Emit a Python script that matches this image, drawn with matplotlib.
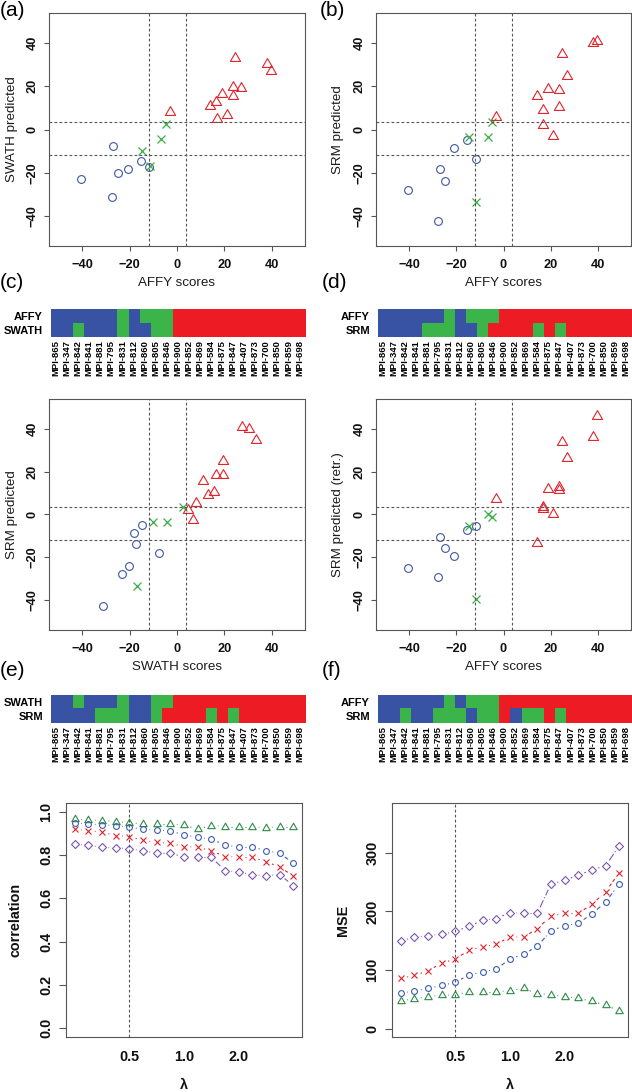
import numpy as np
import matplotlib
matplotlib.use("Agg")
import matplotlib.pyplot as plt
from matplotlib.colors import ListedColormap
from matplotlib.path import Path

plt.rcParams['font.family'] = ['Liberation Sans', 'DejaVu Sans']

W, H = 632, 1092

# ---- data: 23 genes, sorted by AFFY score ----
genes = ['MPI-865', 'MPI-347', 'MPI-842', 'MPI-841', 'MPI-881', 'MPI-795',
         'MPI-831', 'MPI-812', 'MPI-860', 'MPI-805', 'MPI-846', 'MPI-900',
         'MPI-852', 'MPI-869', 'MPI-584', 'MPI-875', 'MPI-847', 'MPI-407',
         'MPI-873', 'MPI-700', 'MPI-850', 'MPI-859', 'MPI-698']
affy = [-40.5, -27.6, -26.8, -24.8, -20.8, -15.3, -14.8, -11.8, -11.5, -6.6, -4.7,
        -3.0, 14.1, 16.6, 16.8, 19.0, 21.0, 23.5, 23.7, 24.6, 26.9, 38.1, 39.5]
swath = [-23.1, -31.2, -7.7, -20.3, -18.3, -14.6, -10.0, -17.3, -16.8, -4.4, 2.7,
         8.0, 10.9, 12.9, 4.7, 16.3, 6.6, 19.6, 15.5, 33.3, 19.4, 30.3, 27.3]
srm = [-27.9, -42.6, -18.2, -24.1, -8.6, -4.8, -3.5, -13.7, -33.4, -3.5, 3.7,
       5.6, 15.6, 9.1, 2.2, 18.7, -2.8, 18.4, 10.4, 34.9, 25.0, 40.0, 40.8]
srm_retr = [-25.2, -29.3, -10.5, -15.6, -19.6, -7.2, -5.3, -5.5, -39.5, 0.1, -1.0,
            7.1, -13.1, 3.5, 2.4, 11.8, 0.1, 13.0, 11.3, 34.0, 26.5, 36.3, 46.0]

# class per gene: 0 = down (blue), 1 = unchanged (green), 2 = up (red)
affy_cls = [0, 0, 0, 0, 0, 0, 1, 0, 1, 1, 1, 2, 2, 2, 2, 2, 2, 2, 2, 2, 2, 2, 2]
swath_cls = [0, 0, 1, 0, 0, 0, 1, 0, 0, 1, 1, 2, 2, 2, 2, 2, 2, 2, 2, 2, 2, 2, 2]
srm_cls = [0, 0, 0, 0, 1, 1, 1, 0, 0, 1, 2, 2, 2, 2, 1, 2, 1, 2, 2, 2, 2, 2, 2]
retr_cls = [0, 0, 1, 0, 0, 1, 1, 1, 0, 1, 1, 2, 0, 1, 1, 2, 1, 2, 2, 2, 2, 2, 2]

cut_x = [-12.0, 3.7]
cut_y = [-12.0, 3.5]

# lambda grid (index positions) and the labelled values
lam_pos = list(range(1, 18))
lam_ticks = [5, 9, 13]
lam_labels = ['0.5', '1.0', '2.0']
lam_sel = 5

cor_circle = [0.947, 0.943, 0.940, 0.936, 0.928, 0.919, 0.916, 0.910, 0.893,
              0.882, 0.873, 0.847, 0.836, 0.836, 0.820, 0.809, 0.762]
cor_cross = [0.919, 0.913, 0.905, 0.890, 0.885, 0.867, 0.859, 0.854, 0.839,
             0.836, 0.820, 0.793, 0.790, 0.790, 0.770, 0.744, 0.704]
cor_tri = [0.965, 0.962, 0.959, 0.954, 0.949, 0.943, 0.943, 0.943, 0.937,
           0.920, 0.936, 0.931, 0.931, 0.931, 0.926, 0.931, 0.931]
cor_diam = [0.851, 0.844, 0.836, 0.834, 0.828, 0.820, 0.809, 0.809, 0.790,
            0.790, 0.790, 0.728, 0.721, 0.710, 0.704, 0.710, 0.659]

mse_circle = [61, 64, 69, 74, 79, 92, 97, 102, 119, 127, 141, 167, 176, 180, 196, 216, 247]
mse_cross = [86, 91, 99, 112, 119, 134, 140, 144, 157, 156, 171, 192, 197, 197, 212, 234, 266]
mse_tri = [48, 51, 55, 57, 58, 63, 63, 63, 65, 69, 60, 58, 55, 52, 47, 40, 31]
mse_diam = [150, 156, 159, 161, 166, 175, 185, 188, 198, 197, 197, 247, 253, 262, 271, 278, 312]

# ---- styling ----
hm_cols = ['#3953a4', '#3bb44a', '#ed1c24']
pt_blue, pt_green, pt_red = '#3d56a6', '#3aae45', '#e2232c'
ln_blue, ln_red, ln_green, ln_purple = '#3d5cb0', '#e0202a', '#2e8a48', '#7c55b0'
frame = '#555555'

tri = Path([(-1, -0.577), (1, -0.577), (0, 1.155), (-1, -0.577)], closed=True)

fig = plt.figure(figsize=(W / 100, H / 100), dpi=100)


def px_box(l, t, r, b):
    return [l / W, 1 - b / H, (r - l) / W, (b - t) / H]


def frame_axes(ax):
    for s in ax.spines.values():
        s.set_color(frame)
        s.set_linewidth(0.8)


def labels(ax, rect, xlab, xlab_y, ylab, ylab_x, **kw):
    l, t, r, b = rect
    ax.set_xlabel(xlab, **kw)
    ax.xaxis.set_label_coords(0.5, (b - xlab_y) / (b - t))
    ax.xaxis.label.set_va('center')
    ax.set_ylabel(ylab, **kw)
    ax.yaxis.set_label_coords((ylab_x - l) / (r - l), 0.5)
    ax.yaxis.label.set_va('center')


def scatter_panel(rect, x, y, xlab, ylab, ylab_x):
    ax = fig.add_axes(px_box(*rect))
    x = np.asarray(x)
    y = np.asarray(y)
    cls = np.asarray(affy_cls)
    ax.plot(x[cls == 0], y[cls == 0], ls='none', marker='o', ms=5.6, mfc='none',
            mec=pt_blue, mew=0.8)
    ax.plot(x[cls == 1], y[cls == 1], ls='none', marker='x', ms=5.4,
            mec=pt_green, mew=0.9)
    ax.plot(x[cls == 2], y[cls == 2], ls='none', marker=tri, ms=8.5, mfc='none',
            mec=pt_red, mew=0.8)
    for v in cut_x:
        ax.axvline(v, color=frame, lw=0.8, ls=(0, (2.5, 2)))
    for v in cut_y:
        ax.axhline(v, color=frame, lw=0.8, ls=(0, (2.5, 2)))
    ax.set_xlim(-54, 54)
    ax.set_ylim(-54, 54)
    ax.set_xticks([-40, -20, 0, 20, 40])
    ax.set_yticks([-40, -20, 0, 20, 40])
    ax.tick_params(axis='both', length=3.4, width=0.8, color=frame,
                   labelsize=9.2, labelcolor='#111111')
    ax.tick_params(axis='x', pad=6.0)
    ax.tick_params(axis='y', pad=4.0, labelrotation=90)
    for t in ax.get_xticklabels() + ax.get_yticklabels():
        t.set_fontweight('bold')
    for t in ax.get_yticklabels():
        t.set_va('center')
    frame_axes(ax)
    labels(ax, rect, xlab, rect[3] + 37, ylab, ylab_x, fontsize=9.6, color='#1a1a1a')
    return ax


def heat_panel(rect, rows, names):
    ax = fig.add_axes(px_box(*rect))
    ax.imshow(np.array(rows), cmap=ListedColormap(hm_cols), vmin=0, vmax=2,
              aspect='auto', interpolation='nearest')
    ax.set_xticks(range(len(genes)))
    ax.set_xticklabels(genes, rotation=90, fontsize=6.8, fontweight='bold')
    ax.set_yticks([0, 1])
    ax.set_yticklabels(names, fontsize=8.0, fontweight='bold')
    ax.tick_params(axis='x', length=0, pad=2.5)
    ax.tick_params(axis='y', length=0, pad=5.5)
    for s in ax.spines.values():
        s.set_visible(False)
    return ax


def b_lines(ax, x, y, color, ls, gap=6.5):
    # R type="b": line pieces between points, leaving a gap around each point
    pts = ax.transData.transform(np.column_stack([x, y]))
    inv = ax.transData.inverted()
    for p, q in zip(pts[:-1], pts[1:]):
        d = q - p
        L = np.hypot(d[0], d[1])
        if L <= 2 * gap + 0.5:
            continue
        u = d / L
        seg = inv.transform(np.array([p + u * gap, q - u * gap]))
        ax.plot(seg[:, 0], seg[:, 1], color=color, ls=ls, lw=0.8)


def lambda_panel(rect, series, ylim, yticks, ylab, ylab_x):
    ax = fig.add_axes(px_box(*rect))
    ax.set_xlim(0.36, 17.64)
    ax.set_ylim(*ylim)
    ax.axvline(lam_sel, color=frame, lw=0.8, ls=(0, (2.5, 2)))
    for vals, col, mk, ms, ls in series:
        ax.plot(lam_pos, vals, ls='none', marker=mk, ms=ms, mfc='none', mec=col, mew=0.8)
        b_lines(ax, lam_pos, vals, col, ls)
    ax.set_xticks(lam_ticks)
    ax.set_xticklabels(lam_labels)
    ax.set_yticks(yticks)
    ax.tick_params(axis='x', length=0, pad=9.5, labelsize=10.4, labelcolor='#111111')
    ax.tick_params(axis='y', length=5.2, width=0.8, color=frame, pad=4.0,
                   labelsize=10.4, labelrotation=90, labelcolor='#111111')
    for t in ax.get_xticklabels() + ax.get_yticklabels():
        t.set_fontweight('bold')
    for t in ax.get_yticklabels():
        t.set_va('center')
    frame_axes(ax)
    labels(ax, rect, 'λ', 1085, ylab, ylab_x, fontsize=10.4, fontweight='bold',
           color='#111111')
    return ax


# ---- scatter panels ----
rect_a = (49, 13, 305, 246)
rect_b = (376, 13, 631, 246)
rect_c = (49, 399, 305, 630)
rect_d = (376, 399, 631, 630)
scatter_panel(rect_a, affy, swath, 'AFFY scores', 'SWATH predicted', 12)
scatter_panel(rect_b, affy, srm, 'AFFY scores', 'SRM predicted', 338)
scatter_panel(rect_c, swath, srm, 'SWATH scores', 'SRM predicted', 12)
scatter_panel(rect_d, affy, srm_retr, 'AFFY scores', 'SRM predicted (retr.)', 338)

# ---- class heat maps ----
heat_panel((50.5, 309, 305, 337), [affy_cls, swath_cls], ['AFFY', 'SWATH'])
heat_panel((377.5, 309, 631, 337), [affy_cls, srm_cls], ['AFFY', 'SRM'])
heat_panel((50.5, 695, 305, 723), [swath_cls, srm_cls], ['SWATH', 'SRM'])
heat_panel((377.5, 695, 631, 723), [affy_cls, retr_cls], ['AFFY', 'SRM'])

# ---- lambda panels ----
lambda_panel((66, 803, 302, 1037),
             [(cor_tri, ln_green, tri, 6.2, (0, (1, 2))),
              (cor_circle, ln_blue, 'o', 4.2, (0, (4, 2, 1, 2))),
              (cor_cross, ln_red, 'x', 3.8, (0, (3, 2))),
              (cor_diam, ln_purple, 'D', 4.0, (0, (7, 2, 1, 2)))],
             (-0.04, 1.04), [0.0, 0.2, 0.4, 0.6, 0.8, 1.0], 'correlation', 16)
lambda_panel((392, 803, 628, 1037),
             [(mse_tri, ln_green, tri, 6.2, (0, (1, 2))),
              (mse_circle, ln_blue, 'o', 4.2, (0, (4, 2, 1, 2))),
              (mse_cross, ln_red, 'x', 3.8, (0, (3, 2))),
              (mse_diam, ln_purple, 'D', 4.0, (0, (7, 2, 1, 2)))],
             (-14, 385), [0, 100, 200, 300], 'MSE', 343)

# ---- panel letters ----
for s, x, y in [('(a)', 0, 10), ('(b)', 320, 10), ('(c)', 0, 283), ('(d)', 322, 283),
                ('(e)', 0, 670), ('(f)', 322, 670)]:
    fig.text(x / W, 1 - y / H, s, fontsize=15, ha='left', va='center')

fig.savefig('out.png', dpi=100)
